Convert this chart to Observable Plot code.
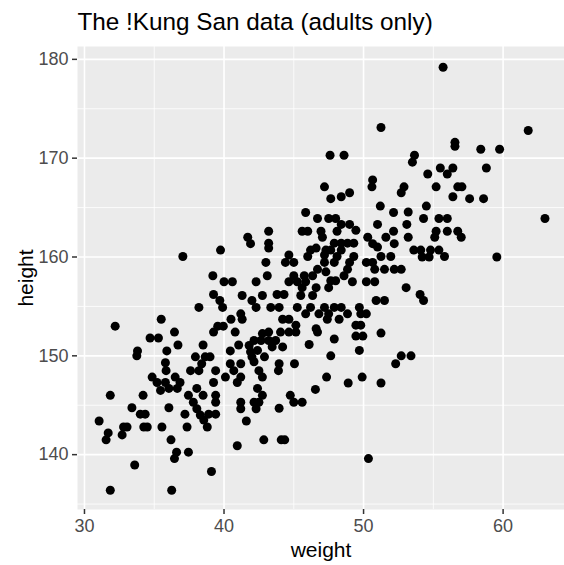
<!DOCTYPE html>
<html><head><meta charset="utf-8">
<script src="https://cdn.jsdelivr.net/npm/d3@7"></script>
<script src="https://cdn.jsdelivr.net/npm/@observablehq/plot@0.6"></script>
<style>body{margin:0;background:#fff;}</style>
</head><body><div id="chart"></div>
<script>
const weight = [
51.25,47.6,48.6,47.2,50.65,50.6,52.7,47.65,48.4,49.0,
55.7,61.8,56.55,56.55,58.4,59.75,53.65,53.5,54.6,55.5,56.4,56.0,58.8,52.9,55.2,56.75,57.05,56.4,57.6,58.6,
54.5,53.2,54.3,55.4,56.0,63.0,53.1,55.2,56.0,56.75,55.1,57.0,53.2,53.6,54.1,54.8,55.4,54.2,54.7,55.8,59.55,52.7,53.05,54.05,54.3,52.7,53.4,
51.2,52.15,45.85,46.7,47.5,48.0,48.4,49.0,49.45,51.0,52.15,45.6,46.0,46.95,48.1,43.2,41.7,41.9,43.2,43.2,47.05,50.3,50.65,51.0,51.6,52.2,
47.9,48.4,48.85,49.3,46.6,46.2,47.3,47.65,48.4,44.65,44.4,45.0,46.0,47.2,48.1,49.3,43.0,47.2,47.9,49.0,50.2,50.65,51.25,51.95,
50.8,51.5,52.2,48.85,48.6,46.7,45.0,45.75,46.35,43.1,47.3,47.65,47.5,48.0,49.2,50.2,50.8,44.65,45.25,45.85,42.3,45.6,46.6,46.35,45.5,
42.75,43.8,44.3,41.3,42.0,42.3,43.35,43.95,45.25,45.85,46.2,47.2,47.9,48.4,49.7,50.9,51.5,46.8,47.5,48.85,49.8,50.2,47.4,48.25,41.2,
41.3,44.2,44.65,45.15,44.05,43.2,42.75,42.15,41.8,42.65,43.2,43.7,43.45,44.2,42.4,41.9,44.65,45.15,46.6,46.7,46.1,47.9,49.45,49.8,
49.45,49.95,51.25,49.7,47.65,
37.05,39.75,39.2,40.0,40.6,39.25,39.7,39.9,38.2,40.5,35.5,32.2,39.55,39.95,39.25,40.8,36.45,34.7,35.3,36.7,38.5,41.05,33.8,35.9,40.45,
37.95,38.65,39.0,
33.75,35.8,35.85,37.6,38.2,38.4,39.4,40.45,40.7,40.1,40.95,34.85,35.2,35.8,36.5,36.85,35.45,36.05,36.65,39.25,38.05,37.45,38.5,39.4,
39.4,37.8,38.05,31.85,34.2,33.4,36.05,34.0,34.35,37.2,38.3,38.55,38.9,39.4,38.8,31.05,32.8,33.05,34.25,34.5,35.55,37.35,31.7,31.55,
32.7,36.2,36.6,36.45,37.45,40.95,33.6,39.1,31.85,36.25,
41.2,42.15,42.0,42.9,42.5,42.75,41.2,43.95,43.9,45.05,52.3,47.35,48.9,49.9,51.25,46.55,44.75,45.0,45.6,42.4,42.75,41.2,42.15,42.5,
42.3,41.2,43.95,41.6,42.85,44.1,44.35,50.35
];
const height = [
173.1,170.3,170.3,167.1,167.8,167.1,166.5,165.9,166.1,166.5,
179.2,172.8,171.6,171.2,170.9,170.9,170.3,169.6,168.4,169.0,169.0,168.4,169.0,167.1,167.1,167.1,167.1,166.1,165.9,165.9,
165.15,164.55,163.9,163.9,163.9,163.9,163.3,162.6,162.6,162.6,162.0,162.0,162.0,160.7,160.7,160.7,160.7,160.0,160.0,160.05,160.0,158.75,156.9,156.2,155.6,150.0,150.0,
165.15,164.5,164.5,163.9,163.9,163.9,163.3,163.3,162.7,163.3,162.6,162.6,162.6,162.6,162.6,162.6,162.0,161.35,161.4,160.9,162.0,162.0,161.35,161.0,162.0,161.35,
161.4,161.4,161.4,161.4,160.9,160.7,160.7,160.7,160.7,160.2,159.45,159.45,160.05,160.2,160.05,160.05,159.45,159.45,159.45,159.45,159.45,159.45,160.05,160.05,
158.75,158.75,158.75,158.75,158.1,158.75,158.1,158.1,158.1,158.1,158.5,157.6,156.9,157.6,157.5,157.5,157.5,157.5,157.5,157.5,157.5,156.9,156.9,156.1,156.1,
156.1,156.2,156.2,156.1,155.6,154.9,154.9,154.9,154.9,154.25,154.9,154.9,154.9,154.9,154.9,155.6,155.6,154.25,154.25,154.25,154.25,154.25,153.7,153.7,154.25,
153.7,153.7,153.7,153.1,152.4,152.4,152.25,151.55,151.05,151.55,151.55,151.55,150.9,150.9,150.55,150.4,152.4,152.4,152.75,152.4,151.15,151.7,153.1,153.1,
152.0,152.0,152.3,150.55,150.0,
160.05,160.7,158.1,157.5,157.5,156.2,155.6,154.9,154.9,153.7,153.7,153.0,153.0,153.0,152.4,152.4,152.4,151.8,151.8,151.1,151.1,151.1,150.5,150.5,150.5,
149.9,149.9,149.9,
150.0,149.3,148.5,148.5,148.5,149.2,148.5,149.2,148.5,147.85,147.3,147.85,147.3,147.3,147.85,147.3,146.5,146.7,146.7,147.3,146.7,146.0,146.0,146.0,
145.3,145.3,144.65,146.0,146.0,144.75,144.75,144.1,144.1,144.1,144.0,143.5,144.1,144.1,142.8,143.4,142.8,142.8,142.8,142.8,142.8,142.8,142.2,141.5,
142.0,141.5,140.25,139.6,140.25,140.9,138.95,138.3,136.4,136.4,
149.2,149.4,149.9,149.9,148.5,147.85,147.85,149.2,148.5,149.2,149.2,147.85,147.25,147.85,147.25,146.6,146.0,145.3,145.3,146.7,146.0,145.3,145.3,145.3,
144.65,144.65,144.7,143.4,141.5,141.5,141.5,139.6
];
const xTicks = [30, 40, 50, 60];
const xMinor = [35, 45, 55];
const yTicks = [140, 150, 160, 170, 180];
const yMinor = [135, 145, 155, 165, 175];
const titleText = "The !Kung San data (adults only)";
const xTitle = "weight";
const yTitle = "height";

const data = weight.map((w, i) => ({weight: w, height: height[i]}));
const font = "'Liberation Sans', Arial, Helvetica, sans-serif";

const chart = Plot.plot({
  width: 564, height: 565,
  marginLeft: 77, marginRight: 0, marginTop: 46, marginBottom: 56,
  style: {fontFamily: font, background: "#fff", overflow: "visible"},
  x: {domain: [29.5, 64.4], label: null},
  y: {domain: [134.45, 181.3], label: null},
  marks: [
    Plot.frame({fill: "#EBEBEB", stroke: "none"}),
    Plot.ruleX(xMinor, {stroke: "#fff", strokeWidth: 0.8}),
    Plot.ruleY(yMinor, {stroke: "#fff", strokeWidth: 0.8}),
    Plot.ruleX(xTicks, {stroke: "#fff", strokeWidth: 1.6}),
    Plot.ruleY(yTicks, {stroke: "#fff", strokeWidth: 1.6}),
    Plot.axisX({ticks: xTicks, tickSize: 5, tickPadding: 5, fontSize: 18, stroke: "#333", fill: "#4D4D4D", strokeWidth: 1.5, label: null}),
    Plot.axisY({ticks: yTicks, tickSize: 5, tickPadding: 4, fontSize: 18, stroke: "#333", fill: "#4D4D4D", strokeWidth: 1.5, label: null}),
    Plot.dot(data, {x: "weight", y: "height", r: 4.5, fill: "#000", stroke: "none"}),
    Plot.text([titleText], {frameAnchor: "top-left", textAnchor: "start", lineAnchor: "bottom", dy: -17, fontSize: 24.3, fill: "#000"}),
    Plot.text([xTitle], {frameAnchor: "bottom", textAnchor: "middle", lineAnchor: "bottom", dy: 47, fontSize: 21, fill: "#000"}),
    Plot.text([yTitle], {frameAnchor: "left", textAnchor: "middle", lineAnchor: "bottom", rotate: -90, dx: -45, fontSize: 21, fill: "#000"})
  ]
});
document.getElementById("chart").appendChild(chart);
</script>
</body></html>
